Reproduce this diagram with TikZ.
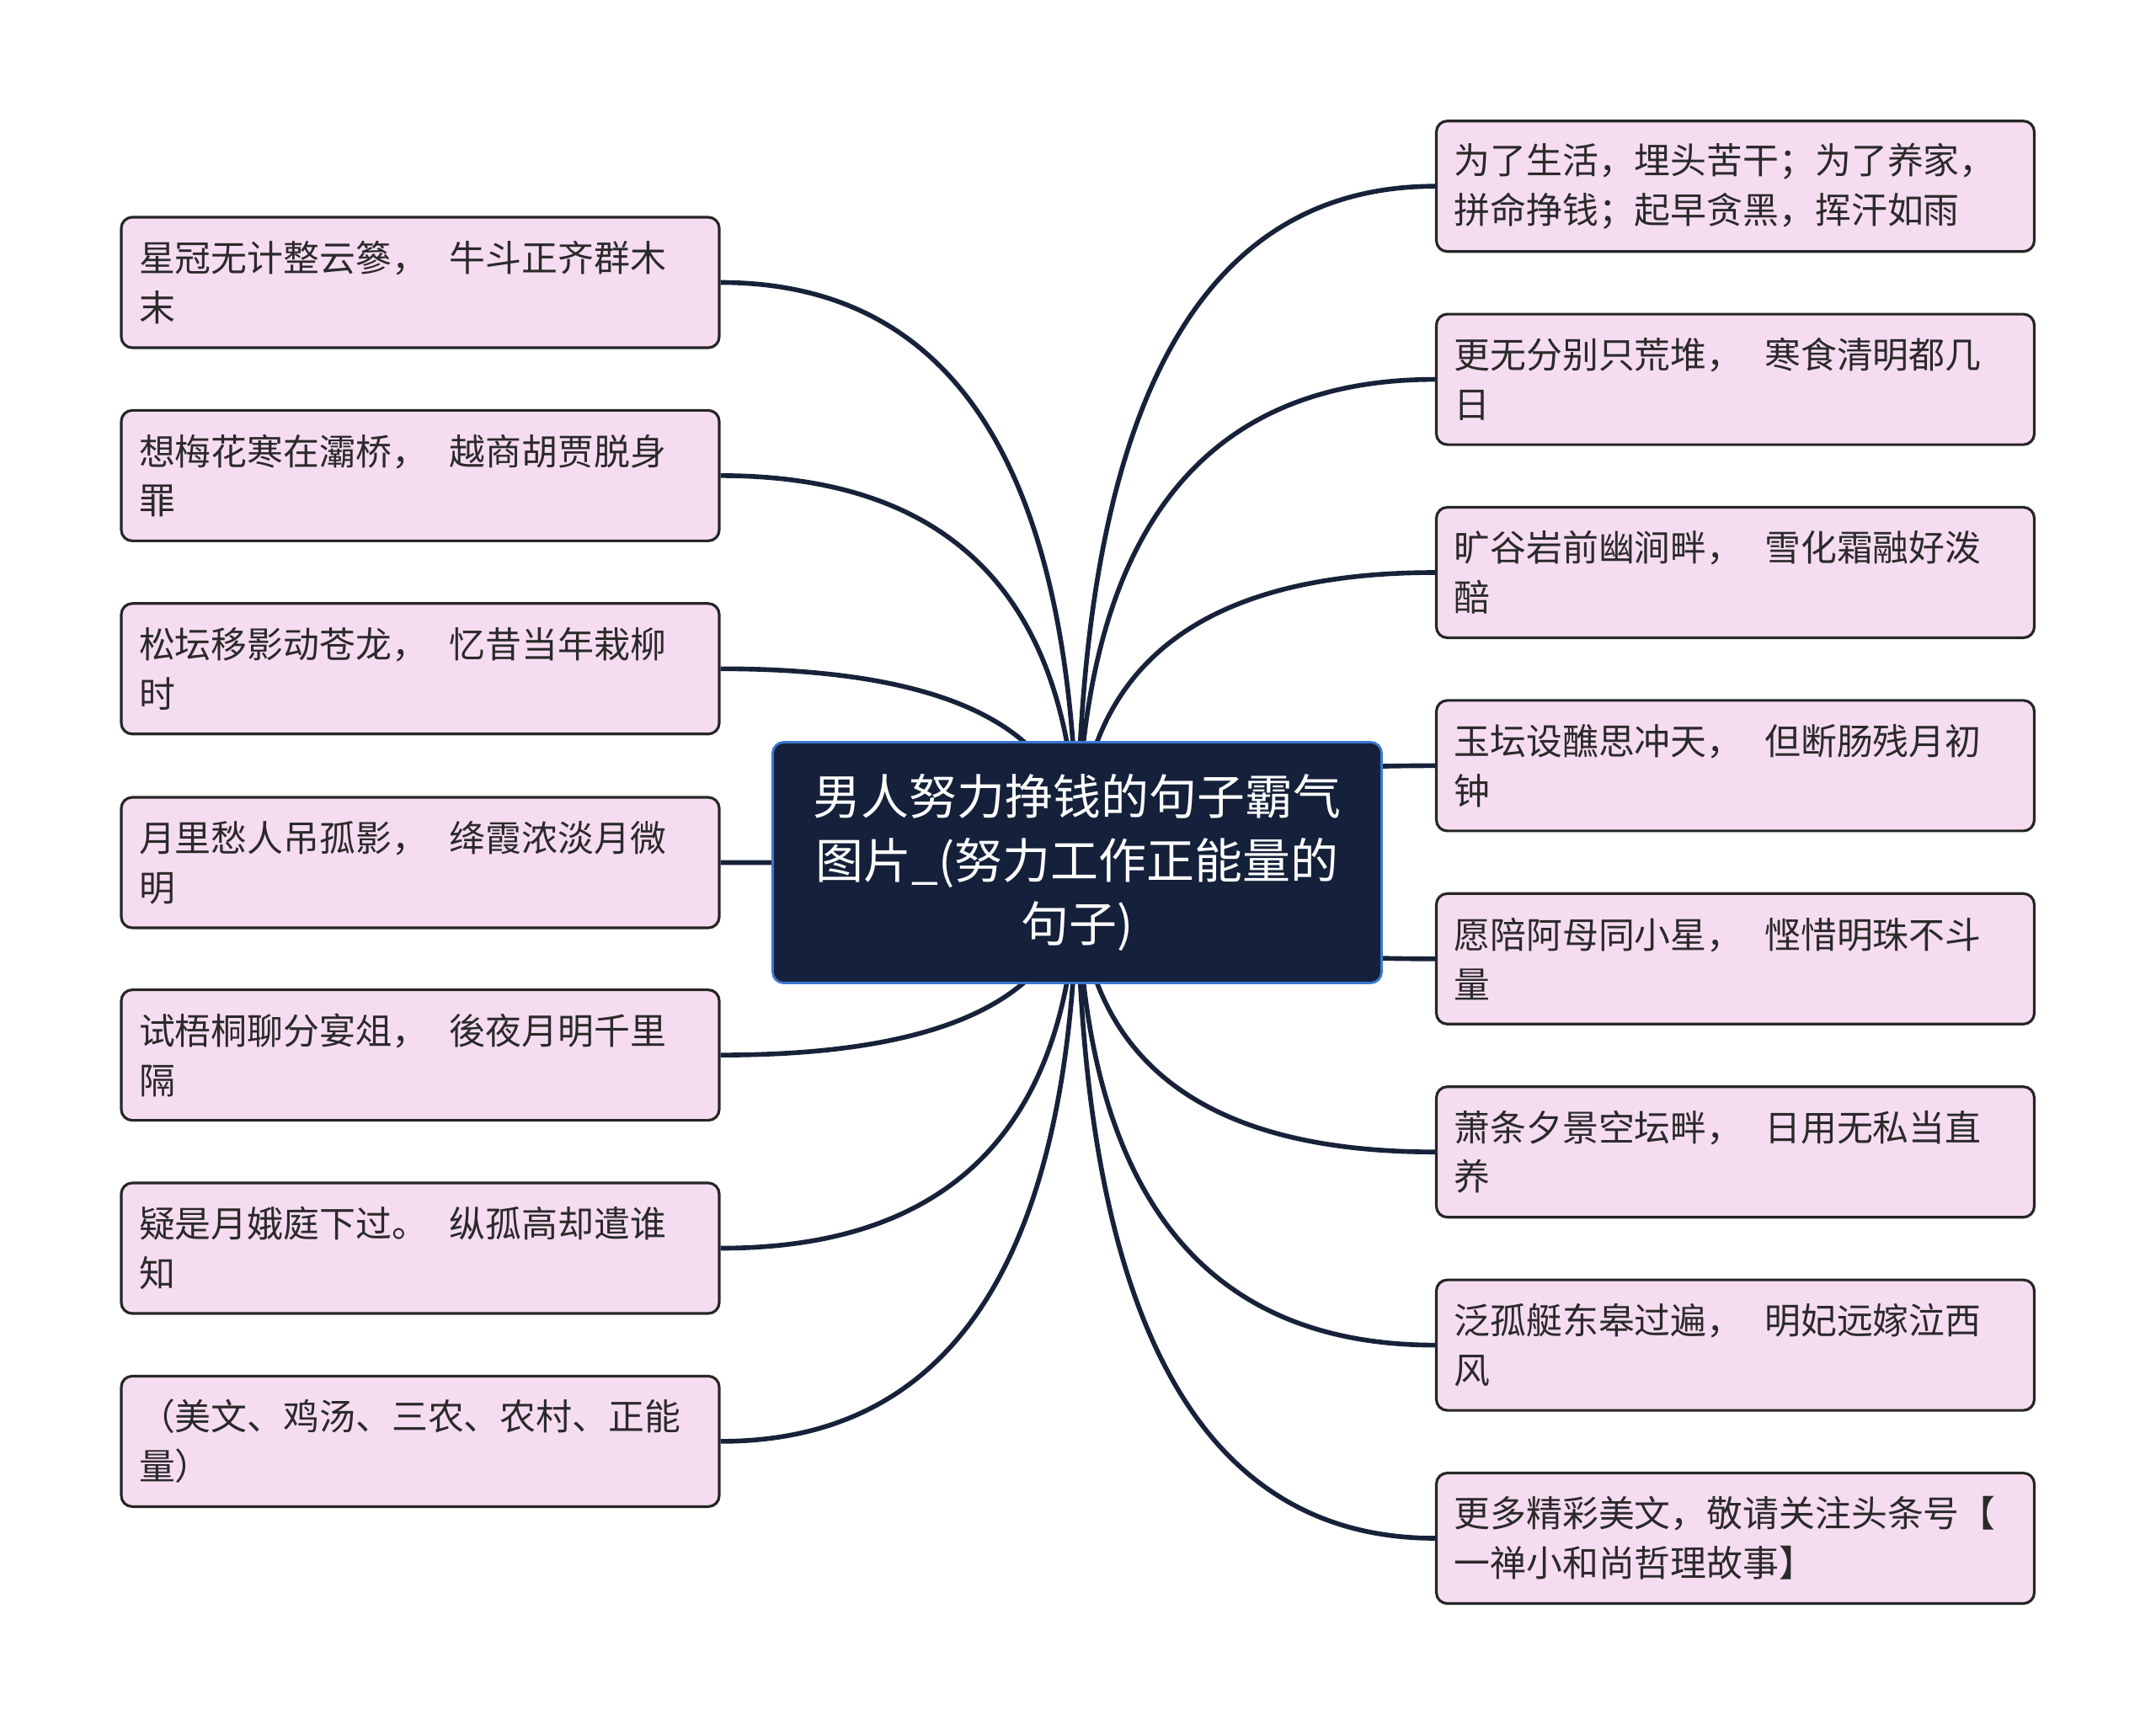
\documentclass[tikz,border=0pt]{standalone}
\usepackage{fontspec}
\setmainfont{Noto Sans CJK SC}
\usepackage{xcolor}
\usetikzlibrary{calc,backgrounds}

\definecolor{leafpink}{HTML}{F6DCF1}
\definecolor{leafedge}{HTML}{262626}
\definecolor{leaftext}{HTML}{2A2A2A}
\definecolor{rootnavy}{HTML}{15213A}
\definecolor{rootblue}{HTML}{3B78D0}
\definecolor{linknavy}{HTML}{17223A}

\newcommand{\gap}{\hspace{0.6em}}

\begin{document}
\begin{tikzpicture}[
  leaf/.style={draw=leafedge, line width=0.9pt, rounded corners=1.3mm, fill=leafpink, text=leaftext, align=left, text width=6.68cm, inner xsep=0.21cm, inner ysep=0pt, minimum height=1.55cm, font=\fontsize{12.2}{16.7}\selectfont},
  root/.style={draw=rootblue, line width=0.8pt, rounded corners=1.3mm, fill=rootnavy, text=white, align=center, minimum width=7.23cm, minimum height=2.86cm, font=\fontsize{16.2}{21.6}\selectfont},
  link/.style={draw=linknavy, line width=1.6pt}
]
\useasboundingbox (0,0) rectangle (25.6,-20.49);

% centre topic
\node[root] (root) at (12.79,-10.245) {男人努力挣钱的句子霸气\\图片\_(努力工作正能量的\\句子)};

% left branches
\node[leaf] (L1) at (4.99,-3.355) {星冠无计整云篸，\gap 牛斗正齐群木\\末};
\node[leaf] (L2) at (4.99,-5.649) {想梅花寒在灞桥，\gap 越商胡贾脱身\\罪};
\node[leaf] (L3) at (4.99,-7.943) {松坛移影动苍龙，\gap 忆昔当年栽柳\\时};
\node[leaf] (L4) at (4.99,-10.245) {月里愁人吊孤影，\gap 绛霞浓淡月微\\明};
\node[leaf] (L5) at (4.99,-12.531) {试梧桐聊分宴俎，\gap 後夜月明千里\\隔};
\node[leaf] (L6) at (4.99,-14.825) {疑是月娥庭下过。\gap 纵孤高却遣谁\\知};
\node[leaf] (L7) at (4.99,-17.119) {（美文、鸡汤、三农、农村、正能\\量）};

% right branches
\node[leaf] (R1) at (20.605,-2.212) {为了生活，埋头苦干；为了养家，\\拼命挣钱；起早贪黑，挥汗如雨};
\node[leaf] (R2) at (20.605,-4.506) {更无分别只荒堆，\gap 寒食清明都几\\日};
\node[leaf] (R3) at (20.605,-6.800) {旷谷岩前幽涧畔，\gap 雪化霜融好泼\\醅};
\node[leaf] (R4) at (20.605,-9.094) {玉坛设醮思冲天，\gap 但断肠残月初\\钟};
\node[leaf] (R5) at (20.605,-11.388) {愿陪阿母同小星，\gap 悭惜明珠不斗\\量};
\node[leaf] (R6) at (20.605,-13.682) {萧条夕景空坛畔，\gap 日用无私当直\\养};
\node[leaf] (R7) at (20.605,-15.976) {泛孤艇东皋过遍，\gap 明妃远嫁泣西\\风};
\node[leaf] (R8) at (20.605,-18.270) {更多精彩美文，敬请关注头条号【\\一禅小和尚哲理故事】};

% connectors, behind the boxes
\begin{pgfonlayer}{background}
\foreach \n in {L1,L2,L3,L4,L5,L6,L7}
  \draw[link] (root.center) .. controls ($(root.center)!2/3!(root.center |- \n.east)$) and ($(\n.east)!2/3!(root.center |- \n.east)$) .. (\n.east);
\foreach \n in {R1,R2,R3,R4,R5,R6,R7,R8}
  \draw[link] (root.center) .. controls ($(root.center)!2/3!(root.center |- \n.west)$) and ($(\n.west)!2/3!(root.center |- \n.west)$) .. (\n.west);
\end{pgfonlayer}
\end{tikzpicture}
\end{document}
